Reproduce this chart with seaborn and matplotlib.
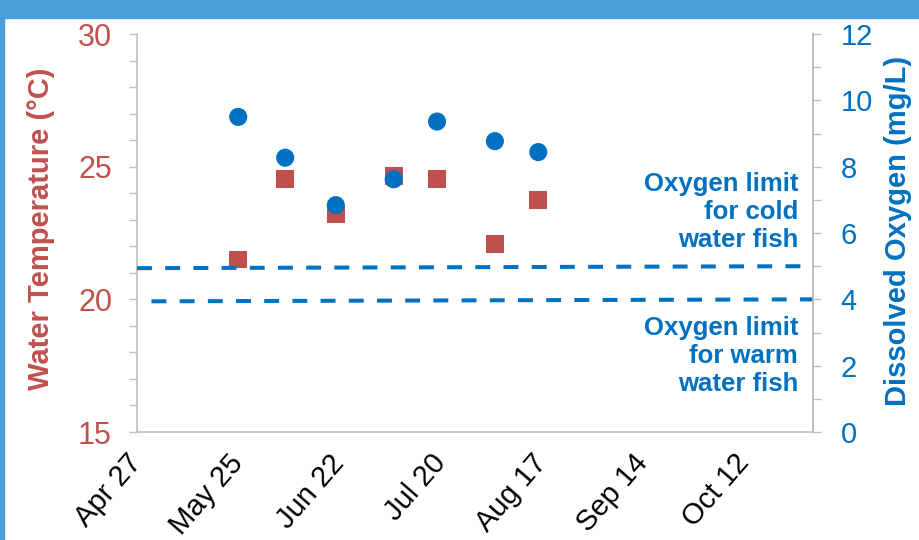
import datetime as dt

import matplotlib
matplotlib.use("Agg")
import matplotlib.pyplot as plt
import pandas as pd
import seaborn as sns
from matplotlib.patches import Rectangle

# sampling dates and readings
sample_dates = ["2015-05-25", "2015-06-07", "2015-06-21", "2015-07-07",
                "2015-07-19", "2015-08-04", "2015-08-16"]
water_temp_c = [21.5, 24.55, 23.2, 24.65, 24.55, 22.1, 23.75]
dissolved_oxygen = [9.5, 8.27, 6.84, 7.62, 9.36, 8.77, 8.44]

# hand-drawn limit lines (start, end)
cold_limit_dates = ["2015-04-27", "2015-10-31"]
cold_limit_do = [4.94, 5.0]
warm_limit_dates = ["2015-05-01", "2015-10-31"]
warm_limit_do = [3.94, 4.0]

x_start, x_end = "2015-04-27", "2015-10-31"

RED = "#C0504D"
BLUE = "#0070C0"
SPINE = "#BFBFBF"

df = pd.DataFrame({
    "date": pd.to_datetime(sample_dates),
    "temp": water_temp_c,
    "do": dissolved_oxygen,
})
cold = pd.DataFrame({"date": pd.to_datetime(cold_limit_dates), "do": cold_limit_do})
warm = pd.DataFrame({"date": pd.to_datetime(warm_limit_dates), "do": warm_limit_do})

sns.set_style("white")
plt.rcParams["font.family"] = ["Liberation Sans", "DejaVu Sans"]

fig = plt.figure(figsize=(9.19, 5.40), dpi=100)
ax = fig.add_axes([137 / 919, 1 - 432 / 540, (813 - 137) / 919, (432 - 34) / 540])
ax2 = ax.twinx()

sns.scatterplot(data=df, x="date", y="temp", marker="s", s=165, color=RED,
                edgecolor="none", ax=ax, zorder=3)
sns.scatterplot(data=df, x="date", y="do", marker="o", s=170, color=BLUE,
                edgecolor="none", ax=ax2, zorder=4)

dash = (0, (3.7, 3.3))
for lim in (cold, warm):
    sns.lineplot(data=lim, x="date", y="do", color=BLUE, linewidth=2.9,
                 linestyle=dash, ax=ax2, zorder=2)

ax.set_xlim(pd.Timestamp(x_start), pd.Timestamp(x_end))
ax.set_ylim(15, 30)
ax2.set_ylim(0, 12)

start = dt.datetime(2015, 4, 27)
major = [start + dt.timedelta(days=28 * i) for i in range(7)]
minor = [start + dt.timedelta(days=14 + 28 * i) for i in range(7)]
ax.set_xticks(major)
ax.set_xticks(minor, minor=True)
ax.set_xticklabels([d.strftime("%b ") + str(d.day) for d in major])

ax.set_yticks(range(15, 31, 5))
ax.set_yticks(range(15, 31), minor=True)
ax2.set_yticks(range(0, 13, 2))
ax2.set_yticks(range(0, 13), minor=True)

ax.tick_params(axis="x", which="both", direction="out", length=6, width=1,
               color=SPINE, labelsize=21, labelcolor="black", pad=13)
for lbl in ax.get_xticklabels():
    lbl.set_rotation(49)
    lbl.set_ha("right")
    lbl.set_va("center")
    lbl.set_rotation_mode("anchor")

ax.tick_params(axis="y", which="both", direction="out", length=6, width=1,
               color=SPINE, labelsize=22, labelcolor=RED, pad=12)
ax2.tick_params(axis="y", which="both", direction="out", length=6, width=1,
                color=SPINE, labelsize=21, labelcolor=BLUE, pad=14)

for a in (ax, ax2):
    a.spines["top"].set_visible(False)
    for side in ("left", "right", "bottom"):
        a.spines[side].set_color(SPINE)
        a.spines[side].set_linewidth(1.2)
ax2.spines["left"].set_visible(False)
ax2.spines["bottom"].set_visible(False)

ax.set_xlabel("")
ax.set_ylabel("Water Temperature (°C)", color=RED, fontsize=21, fontweight="bold")
ax.yaxis.set_label_coords(-0.122, 0.51)
ax2.set_ylabel("Dissolved Oxygen (mg/L)", color=BLUE, fontsize=21, fontweight="bold")
ax2.yaxis.set_label_coords(1.105, 0.505)

ax2.text(0.978, 6.63, "Oxygen limit\nfor cold\nwater fish",
         transform=ax2.get_yaxis_transform(), ha="right", va="center",
         ma="right", color=BLUE, fontsize=18.5, fontweight="bold", linespacing=1.2)
ax2.text(0.978, 2.29, "Oxygen limit\nfor warm\nwater fish",
         transform=ax2.get_yaxis_transform(), ha="right", va="center",
         ma="right", color=BLUE, fontsize=18.5, fontweight="bold", linespacing=1.2)

# slide frame: blue band on top and left edge
fig.patches.append(Rectangle((0, 1 - 17.5 / 540), 1, 17.5 / 540,
                             transform=fig.transFigure, color="#4A9FD8", zorder=0))
fig.patches.append(Rectangle((0, 0), 4 / 919, 1,
                             transform=fig.transFigure, color="#4A9FD8", zorder=0))

fig.savefig("out.png", dpi=100)
